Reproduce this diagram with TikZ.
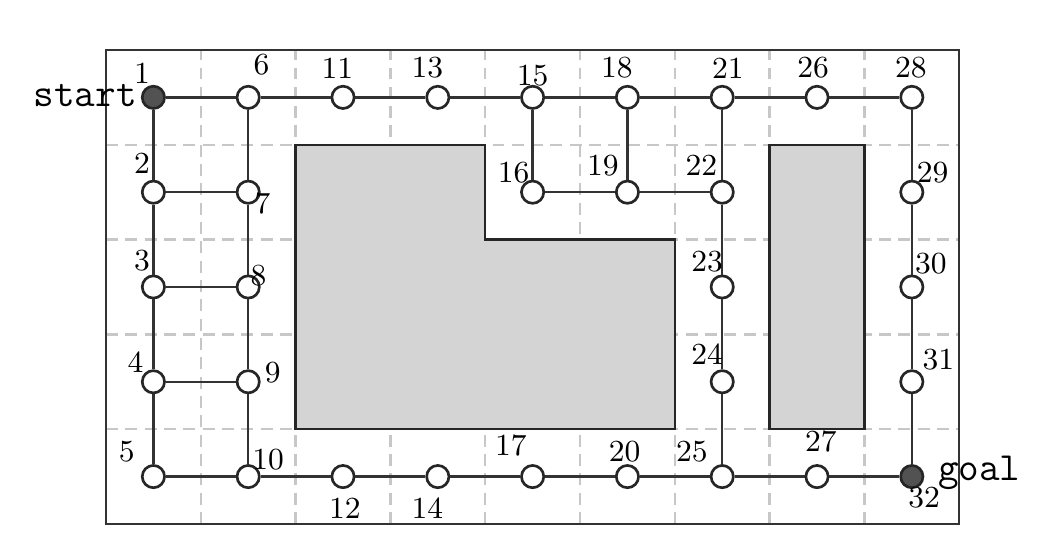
\documentclass[tikz,border=0pt]{standalone}
\begin{document}
\begin{tikzpicture}[x=1cm,y=1cm,
  gridline/.style={draw=black!22,line width=0.7pt,dash pattern=on 3.6pt off 2.2pt},
  obstacle/.style={fill=black!17,draw=black!85,line width=0.75pt},
  frame/.style={draw=black!80,line width=0.75pt},
  edge/.style={draw=black!80,line width=0.7pt},
  vert/.style={circle,draw=black!85,fill=white,line width=0.8pt,minimum size=0.235cm,inner sep=0pt},
  endvert/.style={vert,fill=black!68},
  num/.style={inner sep=0pt,font=\fontsize{9.2}{11}\selectfont},
  tag/.style={inner sep=0pt,font=\fontsize{12}{14}\ttfamily}]
\useasboundingbox (-1.118,-0.316) rectangle (10.084,5.527);
% grid
\foreach \i in {1,...,8} \draw[gridline] (\i,0) -- (\i,5);
\foreach \j in {1,...,4} \draw[gridline] (0,\j) -- (9,\j);
\draw[gridline] (0,0) -- (9,0);
% obstacles
\draw[obstacle] (2,4) -- (4,4) -- (4,3) -- (6,3) -- (6,1) -- (2,1) -- cycle;
\draw[obstacle] (7,1) rectangle (8,4);
% frame
\draw[frame] (0,0) rectangle (9,5);
% vertices
\foreach \n/\x/\y in {2/0.5/3.5,3/0.5/2.5,4/0.5/1.5,5/0.5/0.5,
  6/1.5/4.5,7/1.5/3.5,8/1.5/2.5,9/1.5/1.5,10/1.5/0.5,
  11/2.5/4.5,12/2.5/0.5,13/3.5/4.5,14/3.5/0.5,
  15/4.5/4.5,16/4.5/3.5,17/4.5/0.5,18/5.5/4.5,19/5.5/3.5,20/5.5/0.5,
  21/6.5/4.5,22/6.5/3.5,23/6.5/2.5,24/6.5/1.5,25/6.5/0.5,
  26/7.5/4.5,27/7.5/0.5,28/8.5/4.5,29/8.5/3.5,30/8.5/2.5,31/8.5/1.5}
  \node[vert] (n\n) at (\x,\y) {};
\node[endvert] (n1) at (0.5,4.5) {};
\node[endvert] (n32) at (8.5,0.5) {};
% edges
\foreach \a/\b in {1/6,6/11,11/13,13/15,15/18,18/21,21/26,26/28,
  1/2,2/3,3/4,4/5,6/7,7/8,8/9,9/10,2/7,3/8,4/9,5/10,
  10/12,12/14,14/17,17/20,20/25,25/27,27/32,
  15/16,18/19,16/19,19/22,21/22,22/23,23/24,24/25,
  28/29,29/30,30/31,31/32}
  \draw[edge] (n\a) -- (n\b);
% labels
\foreach \n/\x/\y in {1/0.38/4.75,2/0.38/3.80,3/0.38/2.78,4/0.31/1.71,5/0.22/0.76,
  6/1.64/4.85,7/1.65/3.38,8/1.61/2.62,9/1.76/1.60,10/1.71/0.68,
  11/2.44/4.81,12/2.52/0.17,13/3.39/4.81,14/3.39/0.17,
  15/4.50/4.73,16/4.30/3.71,17/4.27/0.83,18/5.39/4.81,19/5.24/3.78,20/5.47/0.76,
  21/6.56/4.81,22/6.28/3.78,23/6.34/2.77,24/6.34/1.79,25/6.18/0.76,
  26/7.46/4.81,27/7.54/0.87,28/8.49/4.81,29/8.72/3.71,30/8.70/2.75,31/8.78/1.73,32/8.63/0.28}
  \node[num] (l\n) at (\x,\y) {\n};
\node[tag,anchor=base east] (start) at (0.33,4.40) {start};
\node[tag,anchor=base west] (goal) at (8.77,0.46) {goal};
\end{tikzpicture}
\end{document}
